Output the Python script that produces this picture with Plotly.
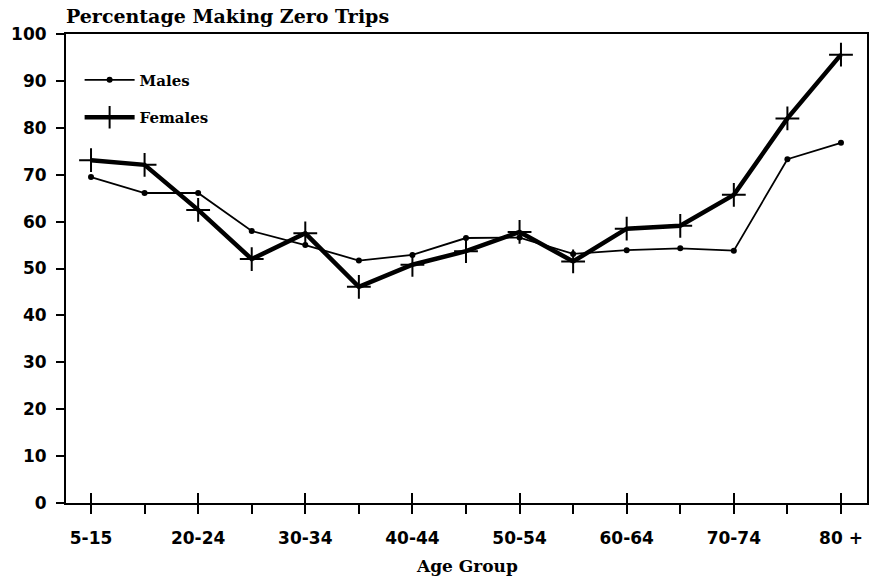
import plotly.graph_objects as go

age_groups = ["5-15", "16-19", "20-24", "25-29", "30-34", "35-39", "40-44", "45-49",
              "50-54", "55-59", "60-64", "65-69", "70-74", "75-79", "80 +"]
males = [69.5, 66.1, 66.1, 58.0, 55.0, 51.7, 52.9, 56.5, 56.6, 53.1, 53.9, 54.3, 53.8, 73.3, 76.8]
females = [73.1, 72.1, 62.5, 52.0, 57.5, 46.1, 50.8, 53.7, 57.8, 51.5, 58.5, 59.1, 65.7, 82.0, 95.6]
y_ticks = [0, 10, 20, 30, 40, 50, 60, 70, 80, 90, 100]

idx = list(range(len(age_groups)))
major = idx[::2]
minor = idx[1::2]

fig = go.Figure()
fig.add_trace(go.Scatter(
    x=idx, y=males, name="Males", mode="lines+markers",
    line=dict(color="black", width=1.8),
    marker=dict(symbol="circle", size=6, color="black"),
    legendgroup="m",
))
fig.add_trace(go.Scatter(
    x=idx, y=females, name="Females", mode="lines+markers",
    line=dict(color="black", width=4.5),
    marker=dict(symbol="cross-thin", size=17, color="black", line=dict(width=2, color="black")),
    legendgroup="f",
))

xr = [-0.467, 14.486]
tickfont = dict(family="DejaVu Sans", size=17, color="black", weight="bold")
fig.update_layout(
    width=869, height=583,
    margin=dict(l=66, r=2, t=34, b=80, autoexpand=False),
    paper_bgcolor="white", plot_bgcolor="white",
    showlegend=True,
    legend=dict(x=0.017, y=0.937, xanchor="left", yanchor="top", itemwidth=50,
                bgcolor="rgba(0,0,0,0)", traceorder="grouped", tracegroupgap=15,
                font=dict(family="DejaVu Serif", size=15, color="black", weight="bold")),
    title=dict(text="Percentage Making Zero Trips", x=0, xref="paper", xanchor="left",
               y=1 - 16 / 583, yanchor="middle",
               font=dict(family="DejaVu Serif", size=19, color="black", weight="bold")),
    xaxis=dict(range=xr, tickmode="array", tickvals=major,
               ticktext=[age_groups[i] for i in major], automargin=False,
               ticks="outside", ticklen=9, tickwidth=2, tickcolor="black",
               ticklabelstandoff=10,
               minor=dict(tickmode="array", tickvals=minor, ticks="outside", ticklen=9,
                          tickwidth=2, tickcolor="black"),
               showgrid=False, zeroline=False, showline=True, linecolor="black",
               linewidth=2, mirror=True, tickfont=tickfont),
    xaxis2=dict(range=xr, overlaying="x", anchor="y", side="bottom", tickmode="array",
                tickvals=major, ticks="inside", ticklen=10, tickwidth=2, tickcolor="black",
                showticklabels=False, showgrid=False, zeroline=False, showline=False,
                automargin=False),
    yaxis=dict(range=[0, 100], tickmode="array", tickvals=y_ticks, automargin=False,
               ticks="outside", ticklen=8, tickwidth=2, tickcolor="black",
               ticklabelstandoff=6,
               showgrid=False, zeroline=False, showline=True, linecolor="black",
               linewidth=2, mirror=True, tickfont=tickfont),
    annotations=[dict(text="Age Group", x=0.5, y=0, xref="paper", yref="paper",
                      xanchor="center", yanchor="middle", yshift=-63, showarrow=False,
                      font=dict(family="DejaVu Serif", size=17, color="black", weight="bold"))],
)
# invisible trace to activate the overlay axis that draws the upper half of the major ticks
fig.add_trace(go.Scatter(x=[0], y=[0], xaxis="x2", mode="markers",
                         marker=dict(opacity=0), showlegend=False, hoverinfo="skip"))
fig.write_html("out.html", config={"displayModeBar": False},
               post_script="document.body.style.margin='0';document.body.style.overflow='hidden';")
